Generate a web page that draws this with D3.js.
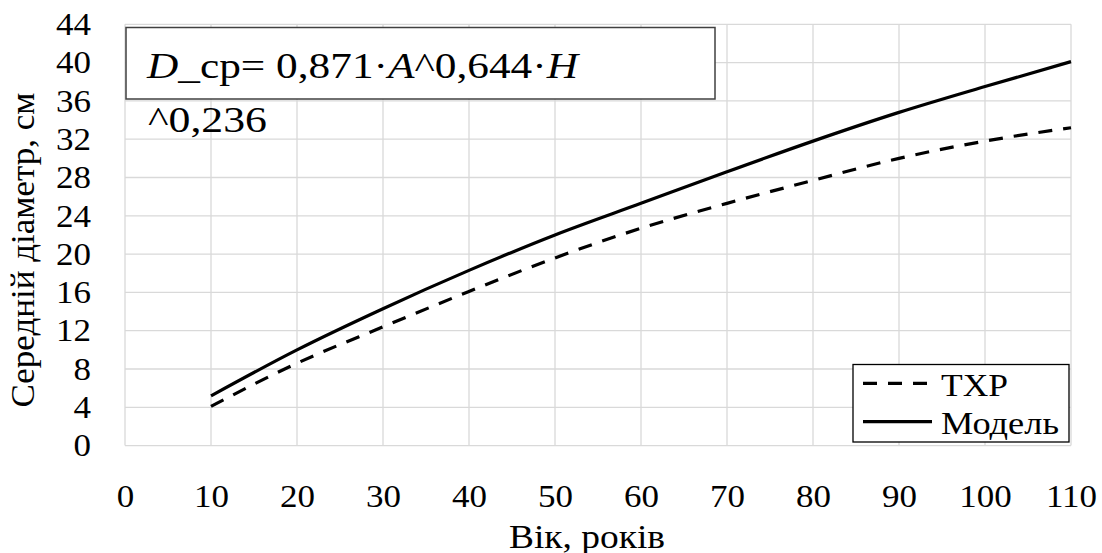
<!DOCTYPE html>
<html><head><meta charset="utf-8">
<script src="https://cdn.jsdelivr.net/npm/d3@7"></script>
</head><body style="margin:0"><svg id="c" width="1102" height="553"></svg>
<script>
const ages = [10, 20, 30, 40, 50, 60, 70, 80, 90, 100, 110];
const txpValues = [4.1, 8.6, 12.4, 16.1, 19.6, 22.7, 25.3, 27.7, 30.0, 31.8, 33.2];
const modelValues = [5.2, 10.0, 14.3, 18.3, 22.0, 25.3, 28.6, 31.8, 34.8, 37.5, 40.1];
const xTicks = [0, 10, 20, 30, 40, 50, 60, 70, 80, 90, 100, 110];
const yTicks = [0, 4, 8, 12, 16, 20, 24, 28, 32, 36, 40, 44];
const seriesNames = ["ТХР", "Модель"];
const xTitle = "Вік, років";
const yTitle = "Середній діаметр, см";

const svg = d3.select("#c");
const FONT = '"Tinos", "Times New Roman", "FreeSerif", "Liberation Serif", monospace';
const BASE = 28;
const SX = 1.13;
const x = d3.scaleLinear().domain([0, 110]).range([125, 1071]);
const y = d3.scaleLinear().domain([0, 44]).range([445.6, 24.3]);

function styleText(sel) {
  return sel.style("font-family", FONT).style("font-size", BASE + "px").attr("fill", "#000");
}

// grid
const grid = svg.append("g");
grid.selectAll("line.h").data(yTicks).join("line")
  .attr("x1", x(0)).attr("x2", x(110)).attr("y1", d => y(d)).attr("y2", d => y(d))
  .attr("stroke", "#d9d9d9").attr("stroke-width", 1.3);
grid.selectAll("line.v").data(xTicks).join("line")
  .attr("y1", y(0)).attr("y2", y(44)).attr("x1", d => x(d)).attr("x2", d => x(d))
  .attr("stroke", "#d9d9d9").attr("stroke-width", 1.3);

// axes
const tk = 31 / BASE;
const xAxis = svg.append("g").attr("transform", `translate(0,${y(0)})`)
  .call(d3.axisBottom(x).tickValues(xTicks).tickSize(0).tickPadding(0));
xAxis.attr("font-family", null).attr("font-size", null);
xAxis.select(".domain").remove();
styleText(xAxis.selectAll("text").attr("x", 0).attr("y", 0).attr("dy", 0)
  .attr("transform", `translate(0,61.5) scale(${SX * tk},${tk})`));

const yAxis = svg.append("g").attr("transform", `translate(${x(0)},0)`)
  .call(d3.axisLeft(y).tickValues(yTicks).tickSize(0).tickPadding(0));
yAxis.attr("font-family", null).attr("font-size", null);
yAxis.select(".domain").remove();
styleText(yAxis.selectAll("text").attr("x", 0).attr("y", 0).attr("dy", "0.33em")
  .attr("transform", `translate(-34,0) scale(${SX * tk},${tk})`));

// lines
const line = d3.line().x((d, i) => x(ages[i])).y(d => y(d)).curve(d3.curveMonotoneX);
svg.append("path").datum(txpValues).attr("d", line)
  .attr("fill", "none").attr("stroke", "#000").attr("stroke-width", 3.2)
  .attr("stroke-dasharray", "14,11");
svg.append("path").datum(modelValues).attr("d", line)
  .attr("fill", "none").attr("stroke", "#000").attr("stroke-width", 3.2);

// formula box
const fk = 35 / BASE;
svg.append("rect").attr("x", 126).attr("y", 27.5).attr("width", 589).attr("height", 71.5)
  .attr("fill", "#fff").attr("stroke", "#404040").attr("stroke-width", 1.5);
const f = styleText(svg.append("text"))
  .attr("transform", `translate(147,77.5) scale(${fk})`)
  .attr("textLength", 431 / fk).attr("lengthAdjust", "spacingAndGlyphs");
f.append("tspan").style("font-style", "italic").text("D");
f.append("tspan").text("_ср= 0,871·");
f.append("tspan").style("font-style", "italic").text("A");
f.append("tspan").text("^0,644·");
f.append("tspan").style("font-style", "italic").text("H");
styleText(svg.append("text"))
  .attr("transform", `translate(148,132) scale(${fk})`)
  .attr("textLength", 119 / fk).attr("lengthAdjust", "spacingAndGlyphs")
  .text("^0,236");

// legend
svg.append("rect").attr("x", 853).attr("y", 364.5).attr("width", 216).attr("height", 77.5)
  .attr("fill", "#fff").attr("stroke", "#000").attr("stroke-width", 1.3);
const legY = [383.3, 421.7];
const legend = svg.append("g");
legend.selectAll("line").data(seriesNames).join("line")
  .attr("x1", 863).attr("x2", 932).attr("y1", (d, i) => legY[i]).attr("y2", (d, i) => legY[i])
  .attr("stroke", "#000").attr("stroke-width", 3.2)
  .attr("stroke-dasharray", (d, i) => i === 0 ? "14,11" : null);
const legW = [67, 118];
styleText(legend.selectAll("text").data(seriesNames).join("text"))
  .attr("transform", (d, i) => `translate(941,${legY[i] + 12.5}) scale(${tk})`)
  .attr("textLength", (d, i) => legW[i] / tk).attr("lengthAdjust", "spacingAndGlyphs")
  .text(d => d);

// axis titles
const ak = 34 / BASE;
styleText(svg.append("text"))
  .attr("transform", `translate(587,548) scale(${ak})`).attr("text-anchor", "middle")
  .attr("textLength", 156 / ak).attr("lengthAdjust", "spacingAndGlyphs")
  .text(xTitle);
styleText(svg.append("text"))
  .attr("transform", `translate(33.5,250) rotate(-90) scale(${ak})`)
  .attr("text-anchor", "middle")
  .attr("textLength", 315 / ak).attr("lengthAdjust", "spacingAndGlyphs")
  .text(yTitle);
</script></body></html>
